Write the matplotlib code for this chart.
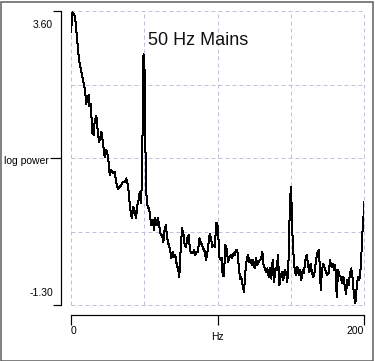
import numpy as np
import matplotlib
matplotlib.use("Agg")
import matplotlib.pyplot as plt
import matplotlib.transforms as mtransforms
from matplotlib.patches import Rectangle

# ---- data ----
freq_hz = [0.0, 1.0, 2.4, 3.1, 3.8, 4.4, 5.3, 5.9, 7.0, 8.0, 8.9, 9.8, 10.4, 11.1, 12.1, 12.5,
           13.4, 13.9, 14.5, 15.5, 16.2, 17.3, 18.0, 19.1, 20.0, 20.7, 21.6, 22.5, 23.0, 24.1,
           24.8, 25.7, 26.4, 27.5, 28.7, 29.8, 30.9, 32.1, 33.2, 34.3, 35.5, 36.7, 37.7, 38.4,
           39.4, 40.1, 40.8, 41.6, 42.5, 43.5, 44.4, 45.3, 46.2, 46.9, 47.6, 48.0, 48.5, 48.8,
           49.1, 49.5, 49.8, 50.3, 50.5, 50.7, 51.2, 51.7, 53.0, 53.9, 54.6, 55.8, 56.7, 57.5,
           58.5, 59.4, 60.3, 61.2, 62.1, 63.0, 64.0, 64.8, 65.5, 66.7, 67.6, 68.5, 69.4, 70.3,
           71.2, 72.2, 73.0, 73.9, 74.9, 75.8, 76.7, 77.6, 78.5, 79.4, 80.3, 81.2, 82.1, 83.1,
           84.0, 84.8, 85.8, 86.7, 87.6, 88.5, 89.4, 90.3, 91.3, 92.2, 93.0, 94.0, 94.7, 95.6,
           96.5, 97.4, 98.3, 99.0, 99.9, 100.5, 101.2, 102.2, 102.8, 103.5, 104.4, 105.3, 106.3,
           107.2, 108.1, 109.0, 109.9, 110.8, 111.7, 112.6, 113.5, 114.5, 115.4, 116.2, 117.2,
           118.1, 119.0, 119.9, 120.8, 121.7, 122.7, 123.5, 124.4, 125.4, 126.3, 127.2, 128.1,
           129.0, 129.9, 130.6, 131.3, 132.2, 133.1, 134.0, 135.0, 135.8, 136.7, 137.7, 138.6,
           139.5, 140.4, 141.3, 142.2, 143.1, 144.0, 144.9, 145.9, 146.8, 147.6, 148.3, 148.8,
           149.5, 150.2, 150.6, 151.3, 152.0, 152.7, 153.4, 154.5, 155.5, 156.3, 157.2, 158.2,
           159.0, 159.9, 160.9, 161.8, 162.7, 163.6, 164.5, 165.4, 166.4, 167.2, 168.1, 169.1,
           169.8, 170.5, 171.3, 172.2, 173.2, 174.1, 175.0, 175.9, 176.8, 177.7, 178.6, 179.5,
           180.4, 181.4, 182.3, 183.1, 184.1, 185.0, 185.9, 186.8, 187.7, 188.6, 189.6, 190.4,
           191.3, 192.3, 193.2, 194.1, 195.0, 195.9, 196.8, 197.8, 198.4, 199.1, 199.8, 200.0]

log_power = [3.25, 3.58, 3.52, 3.42, 3.23, 3.07, 2.83, 2.72, 2.60, 2.48, 2.37, 2.22, 2.05, 2.17,
             2.20, 2.02, 2.05, 1.88, 1.57, 1.53, 1.78, 1.85, 1.67, 1.42, 1.48, 1.59, 1.45, 1.25,
             1.17, 1.28, 1.23, 1.07, 0.87, 0.95, 0.90, 0.92, 0.73, 0.64, 0.67, 0.70, 0.75, 0.75,
             0.81, 0.75, 0.59, 0.37, 0.23, 0.15, 0.34, 0.26, 0.15, 0.37, 0.45, 0.59, 0.40, 0.51,
             0.90, 1.50, 2.45, 2.88, 2.78, 2.57, 1.83, 1.45, 0.78, 0.40, 0.31, 0.23, 0.03, 0.12,
             -0.05, 0.15, 0.03, 0.15, 0.01, -0.13, -0.13, -0.25, -0.02, 0.03, -0.16, -0.30, -0.38,
             -0.52, -0.41, -0.50, -0.47, -0.63, -0.69, -0.83, -0.36, -0.02, -0.11, -0.30, -0.33,
             -0.19, -0.13, -0.38, -0.44, -0.44, -0.38, -0.47, -0.41, -0.41, -0.19, -0.25, -0.30,
             -0.36, -0.41, -0.55, -0.44, -0.25, -0.11, -0.19, -0.33, -0.30, -0.33, 0.06, 0.06,
             -0.11, -0.50, -0.55, -0.52, -0.80, -0.82, -0.30, -0.38, -0.58, -0.52, -0.47, -0.52,
             -0.44, -0.47, -0.38, -0.38, -0.66, -0.86, -0.83, -0.97, -1.08, -0.75, -0.55, -0.47,
             -0.58, -0.55, -0.63, -0.55, -0.69, -0.52, -0.63, -0.58, -0.55, -0.52, -0.41, -0.61,
             -0.69, -0.75, -0.69, -0.83, -0.69, -0.86, -0.55, -0.91, -0.69, -0.72, -0.47, -0.97,
             -0.83, -0.75, -0.88, -0.72, -0.75, -0.91, -0.72, -0.25, 0.45, 0.67, 0.34, -0.22,
             -0.50, -0.72, -0.80, -0.66, -0.80, -0.72, -0.88, -0.72, -0.77, -0.55, -0.47, -0.63,
             -0.75, -0.61, -0.77, -0.83, -0.75, -0.55, -0.44, -0.38, -0.63, -1.05, -0.72, -0.61,
             -0.69, -0.75, -0.80, -0.77, -0.55, -0.66, -0.61, -0.72, -0.63, -1.16, -0.72, -0.80,
             -0.83, -0.94, -0.83, -0.97, -1.11, -0.88, -0.97, -0.77, -0.69, -0.86, -1.16, -1.27,
             -1.00, -0.83, -0.88, -0.66, -0.38, -0.02, 0.23, 0.42]

y_min, y_max = -1.30, 3.60
x_min, x_max = 0, 200
x_tick_vals = [0, 100, 200]
x_tick_labels = ["0", "Hz", "200"]
y_tick_labels = ["3.60", "log power", "-1.30"]
title_text = "50 Hz Mains"

# ---- figure ----
DPI = 100
plt.rcParams['font.family'] = ['Liberation Sans', 'DejaVu Sans']
fig = plt.figure(figsize=(3.75, 3.61), dpi=DPI)
px = 72.0 / DPI  # one pixel in points

W, H = 375, 361
ax = fig.add_axes([71 / W, 1 - 305 / H, 293 / W, 294 / H])
ax.set_xlim(x_min, x_max)
ax.set_ylim(y_min, y_max)

# grid (quarters, including the borders)
grid_col = '#c4bedd'
for gx in np.linspace(x_min, x_max, 5):
    ax.axvline(gx, color=grid_col, lw=1 * px, linestyle=(0, (4, 3)), zorder=1, clip_on=False)
for gy in np.linspace(y_min, y_max, 5):
    ax.axhline(gy, color=grid_col, lw=1 * px, linestyle=(0, (4, 3)), zorder=1, clip_on=False)

ax.plot(freq_hz, log_power, color='black', lw=1.0 * px, antialiased=False, zorder=3)

# spines
for s in ['top', 'right']:
    ax.spines[s].set_visible(False)
for s in ['left', 'bottom']:
    ax.spines[s].set_position(('outward', 10 * px))
    ax.spines[s].set_linewidth(1.2 * px)
    ax.spines[s].set_color('black')

FS = 7.5
# y ticks
mid = (y_min + y_max) / 2
ax.set_yticks([y_max, y_min])
ax.set_yticklabels([y_tick_labels[0], y_tick_labels[2]])
ax.set_yticks([mid], minor=True)
ax.set_yticklabels([y_tick_labels[1]], minor=True)
ax.tick_params(axis='y', which='major', direction='out', length=8 * px, width=1.2 * px,
               pad=0, labelsize=FS)
ax.tick_params(axis='y', which='minor', direction='out', length=11 * px, width=1.2 * px,
               pad=1 * px, labelsize=FS)
ylabs = ax.get_yticklabels()
ylabs[0].set_transform(ylabs[0].get_transform() +
                       mtransforms.ScaledTranslation(0, -13 / DPI, fig.dpi_scale_trans))
ylabs[1].set_transform(ylabs[1].get_transform() +
                       mtransforms.ScaledTranslation(0, 12.5 / DPI, fig.dpi_scale_trans))
mlab = ax.get_yticklabels(minor=True)[0]
mlab.set_transform(mlab.get_transform() +
                   mtransforms.ScaledTranslation(0, -2 / DPI, fig.dpi_scale_trans))

# x ticks
ax.set_xticks(x_tick_vals)
ax.set_xticklabels(x_tick_labels)
ax.tick_params(axis='x', which='major', direction='out', length=10 * px, width=1.2 * px,
               pad=1, labelsize=FS)
xlabs = ax.get_xticklabels()
xlabs[0].set_ha('left')
xlabs[2].set_ha('right')
xlabs[1].set_transform(xlabs[1].get_transform() +
                       mtransforms.ScaledTranslation(0, -6 / DPI, fig.dpi_scale_trans))

# title inside plot
ax.text(0.262, 0.884, title_text, transform=ax.transAxes, ha='left', va='baseline',
        fontsize=13, color='#111111')

# outer frame
fig.patches.append(Rectangle((0.5 / W, 0.5 / H), (W - 2.5) / W, (H - 2) / H,
                             transform=fig.transFigure, fill=False,
                             edgecolor='#5a5a5a', lw=1.5 * px))

fig.savefig('out.png', dpi=DPI)
